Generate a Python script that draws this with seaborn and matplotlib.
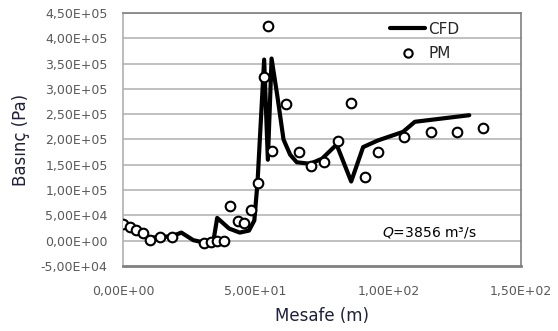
import numpy as np
import pandas as pd
import seaborn as sns
from matplotlib import pyplot as plt
from matplotlib.lines import Line2D
from matplotlib.ticker import FuncFormatter

# CFD line (distance m, pressure Pa)
cfd_x = [0, 5, 10, 14, 18.5, 22, 26.5, 30, 34, 35.5, 40, 44, 47.5, 49.5,
         50.7, 53.2, 54.6, 56.0, 58.2, 60.5, 63, 65.5, 70.5, 75, 80.5, 86,
         90.5, 96, 105.5, 110, 130.5]
cfd_y = [30e3, 20e3, 6e3, 7e3, 9e3, 16e3, 1e3, -3e3, -3e3, 45e3, 24e3, 16e3,
         20e3, 40e3, 115e3, 358e3, 160e3, 360e3, 285e3, 200e3, 170e3, 155e3,
         152e3, 162e3, 190e3, 117e3, 185e3, 198e3, 215e3, 235e3, 248e3]

# PM measurement points
pm_x = [0, 2.5, 5, 7.5, 10.2, 14, 18.5, 30.6, 33, 35.5, 38, 40.4, 43.2, 45.6,
        48.1, 50.7, 53.2, 54.7, 56.1, 61.5, 66.4, 70.9, 75.7, 81.1, 86.1,
        91.2, 96.2, 105.8, 115.9, 125.9, 135.6]
pm_y = [33e3, 27e3, 21e3, 14.5e3, 1.5e3, 6.5e3, 8e3, -4.5e3, -2.5e3, -0.5e3,
        -0.5e3, 68e3, 39e3, 35e3, 60e3, 115e3, 324e3, 424e3, 177e3, 271e3,
        175e3, 147e3, 155e3, 197e3, 272e3, 126e3, 175e3, 204e3, 214e3,
        215e3, 222e3]

yticks = np.arange(-5e4, 4.5e5 + 1, 5e4)
xticks = [0, 50, 100, 150]

cfd = pd.DataFrame({"x": cfd_x, "y": cfd_y})
pm = pd.DataFrame({"x": pm_x, "y": pm_y})

sns.set_style("white")
fig, ax = plt.subplots(figsize=(5.58, 3.31), dpi=100)
fig.subplots_adjust(left=0.2204, right=0.9337, top=0.9607, bottom=0.1964)

# gridlines behind data
for v in yticks[1:]:
    ax.axhline(v, color="#c0c0c0", lw=1.4, zorder=0)

sns.lineplot(data=cfd, x="x", y="y", sort=False, color="black", lw=3.0,
             ax=ax, zorder=2)
sns.scatterplot(data=pm, x="x", y="y", marker="o", s=48, facecolor="white",
                edgecolor="black", linewidth=1.5, ax=ax, zorder=3)


def _sci_comma(v, pos=None):
    # Excel style "4,50E+05"
    return f"{v:.2E}".replace(".", ",")


ax.set_xlim(0, 150)
ax.set_ylim(-5e4, 4.5e5)
ax.set_xticks(xticks)
ax.set_yticks(yticks)
ax.xaxis.set_major_formatter(FuncFormatter(_sci_comma))
ax.yaxis.set_major_formatter(FuncFormatter(_sci_comma))
ax.tick_params(axis="y", length=5, width=1.2, color="#a0a0a0",
               labelsize=9, labelcolor="#595959", pad=6)
ax.tick_params(axis="x", length=0, labelsize=9, labelcolor="#595959", pad=14)

for side in ["top", "right"]:
    ax.spines[side].set_color("#808080")
    ax.spines[side].set_linewidth(1.2)
ax.spines["left"].set_color("#b0b0b0")
ax.spines["left"].set_linewidth(1.2)
ax.spines["bottom"].set_color("#808080")
ax.spines["bottom"].set_linewidth(2.0)

ax.set_xlabel("Mesafe (m)", fontsize=12, color="#1f1f3f", labelpad=6)
ax.set_ylabel("Basınç (Pa)", fontsize=12, color="#1f1f3f", labelpad=8)

ax.text(115.5, 16e3, r"$Q$=3856 m³/s", fontsize=10, ha="center",
        va="center", color="black")

handles = [Line2D([], [], color="black", lw=3.0),
           Line2D([], [], color="black", marker="o", ls="none",
                  markerfacecolor="white", markersize=6, mew=1.5)]
ax.legend(handles, ["CFD", "PM"], loc="upper right", frameon=False,
          fontsize=11, bbox_to_anchor=(0.88, 1.02), handlelength=2.3,
          labelspacing=0.6, handletextpad=0.2)

fig.savefig("out.png", dpi=100)
